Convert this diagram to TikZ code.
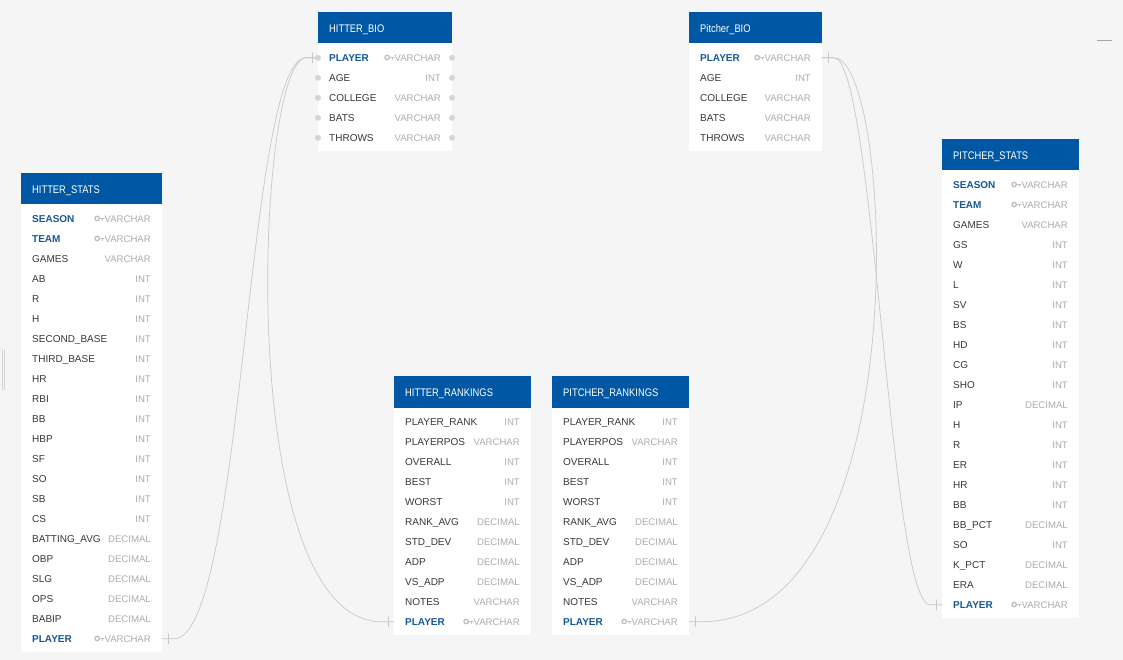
\documentclass[tikz,border=0pt]{standalone}
\usepackage{fontspec}
\setmainfont{Liberation Sans}
\newfontfamily\hdrfont[FakeStretch=0.85]{Liberation Sans}
\usetikzlibrary{calc}

\definecolor{hdrblue}{RGB}{0,88,164}
\definecolor{keyblue}{RGB}{22,88,150}
\definecolor{bggray}{RGB}{245,245,245}
\definecolor{typegray}{RGB}{172,172,172}
\definecolor{namegray}{RGB}{55,55,55}
\definecolor{relgray}{RGB}{200,200,200}
\definecolor{dotgray}{RGB}{212,212,220}
\definecolor{keygray}{RGB}{192,192,200}

\tikzset{
  hdr/.style={text=white, font=\hdrfont\fontsize{11}{12}\selectfont, anchor=west, inner sep=0, text height=7.9pt, text depth=0pt},
  plaincol/.style={text=namegray, font=\fontsize{10}{12}\selectfont, anchor=west, inner sep=0, text height=7.2pt, text depth=0pt},
  keycol/.style={text=keyblue, font=\bfseries\fontsize{10}{12}\selectfont, anchor=west, inner sep=0, text height=7.2pt, text depth=0pt},
  coltype/.style={text=typegray, font=\fontsize{9.6}{12}\selectfont, anchor=east, inner sep=0, text height=6.9pt, text depth=0pt},
  keyicon/.style={draw=keygray, line width=1.4pt},
  rel/.style={draw=relgray, line width=0.7pt}
}

% table: id, title, left x, right x, top y, rows, name/type/key list
\newcommand{\ertable}[7]{%
  \fill[white] (#3,#5+31) rectangle (#4,{#5+39+20*#6});
  \fill[hdrblue] (#3,#5) rectangle (#4,#5+31.5);
  \node[hdr] (#1-title) at (#3+11,#5+17) {#2};
  \foreach \nm/\tp/\kk [count=\i] in {#7} {
    \coordinate (#1-l\i) at (#3,{#5+25.8+20*\i});
    \coordinate (#1-r\i) at (#4,{#5+25.8+20*\i});
    \node[coltype] (#1-t\i) at ($(#1-r\i)+(-11,0)$) {\tp};
    \ifnum\kk=1
      \node[keycol] (#1-\i) at ($(#1-l\i)+(11,0)$) {\nm};
      \draw[keyicon] ($(#1-t\i.west)+(-7.2,-0.3)$) circle (2.2);
      \draw[keyicon, line width=1.2pt] ($(#1-t\i.west)+(-5,-0.3)$) -- ++(4.6,0) ++(-1.6,0) -- ++(0,1.9);
    \else
      \node[plaincol] (#1-\i) at ($(#1-l\i)+(11,0)$) {\nm};
    \fi
  }
}

\begin{document}
\begin{tikzpicture}[line cap=round,line join=round,x=1pt,y=-1pt]
\fill[bggray] (0,0) rectangle (1123,660);
\useasboundingbox (0,0) rectangle (1123,660);

% window bits
\draw[draw=gray!70, line width=1.6pt, line cap=butt] (1097,40.5) -- (1112,40.5);
\draw[draw=gray!35, line width=0.6pt] (2,350) -- (2,390);
\draw[draw=gray!35, line width=0.6pt] (4.5,350) -- (4.5,390);

\ertable{hb}{HITTER\_BIO}{318}{452}{12}{5}{PLAYER/VARCHAR/1, AGE/INT/0, COLLEGE/VARCHAR/0, BATS/VARCHAR/0, THROWS/VARCHAR/0}

\ertable{pb}{Pitcher\_BIO}{689}{822}{12}{5}{PLAYER/VARCHAR/1, AGE/INT/0, COLLEGE/VARCHAR/0, BATS/VARCHAR/0, THROWS/VARCHAR/0}

\ertable{hs}{HITTER\_STATS}{21}{162}{173}{22}{SEASON/VARCHAR/1, TEAM/VARCHAR/1, GAMES/VARCHAR/0, AB/INT/0, R/INT/0, H/INT/0, SECOND\_BASE/INT/0, THIRD\_BASE/INT/0, HR/INT/0, RBI/INT/0, BB/INT/0, HBP/INT/0, SF/INT/0, SO/INT/0, SB/INT/0, CS/INT/0, BATTING\_AVG/DECIMAL/0, OBP/DECIMAL/0, SLG/DECIMAL/0, OPS/DECIMAL/0, BABIP/DECIMAL/0, PLAYER/VARCHAR/1}

\ertable{hr}{HITTER\_RANKINGS}{394}{531}{376}{11}{PLAYER\_RANK/INT/0, PLAYERPOS/VARCHAR/0, OVERALL/INT/0, BEST/INT/0, WORST/INT/0, RANK\_AVG/DECIMAL/0, STD\_DEV/DECIMAL/0, ADP/DECIMAL/0, VS\_ADP/DECIMAL/0, NOTES/VARCHAR/0, PLAYER/VARCHAR/1}

\ertable{pr}{PITCHER\_RANKINGS}{552}{689}{376}{11}{PLAYER\_RANK/INT/0, PLAYERPOS/VARCHAR/0, OVERALL/INT/0, BEST/INT/0, WORST/INT/0, RANK\_AVG/DECIMAL/0, STD\_DEV/DECIMAL/0, ADP/DECIMAL/0, VS\_ADP/DECIMAL/0, NOTES/VARCHAR/0, PLAYER/VARCHAR/1}

\ertable{ps}{PITCHER\_STATS}{942}{1079}{139}{22}{SEASON/VARCHAR/1, TEAM/VARCHAR/1, GAMES/VARCHAR/0, GS/INT/0, W/INT/0, L/INT/0, SV/INT/0, BS/INT/0, HD/INT/0, CG/INT/0, SHO/INT/0, IP/DECIMAL/0, H/INT/0, R/INT/0, ER/INT/0, HR/INT/0, BB/INT/0, BB\_PCT/DECIMAL/0, SO/INT/0, K\_PCT/DECIMAL/0, ERA/DECIMAL/0, PLAYER/VARCHAR/1}

% relations
\draw[rel] (hs-r22) -- ++(12,0) .. controls +(70,0) and +(-60,0) .. ($(hb-l1)+(-12,0)$) -- (hb-l1);
\draw[rel] (hb-l1) -- ++(-12,0) .. controls +(-50,0) and +(-150,0) .. ($(hr-l11)+(-12,0)$) -- (hr-l11);
\draw[rel] (pb-r1) -- ++(12,0) .. controls +(60,0) and +(220,0) .. ($(pr-r11)+(12,0)$) -- (pr-r11);
\draw[rel] (pb-r1) -- ++(12,0) .. controls +(40,0) and +(-40,0) .. ($(ps-l22)+(-12,0)$) -- (ps-l22);

\draw[rel] ($(hs-r22)+(6,-5)$) -- ++(0,10);
\draw[rel] ($(hb-l1)+(-6,-5)$) -- ++(0,10);
\draw[rel] ($(hr-l11)+(-6,-5)$) -- ++(0,10);
\draw[rel] ($(pr-r11)+(6,-5)$) -- ++(0,10);
\draw[rel] ($(pb-r1)+(6,-5)$) -- ++(0,10);
\draw[rel] ($(ps-l22)+(-6,-5)$) -- ++(0,10);

\foreach \i in {1,...,5} {
  \fill[dotgray] (hb-l\i) circle (3);
  \fill[dotgray] (hb-r\i) circle (3);
}

\end{tikzpicture}
\end{document}
